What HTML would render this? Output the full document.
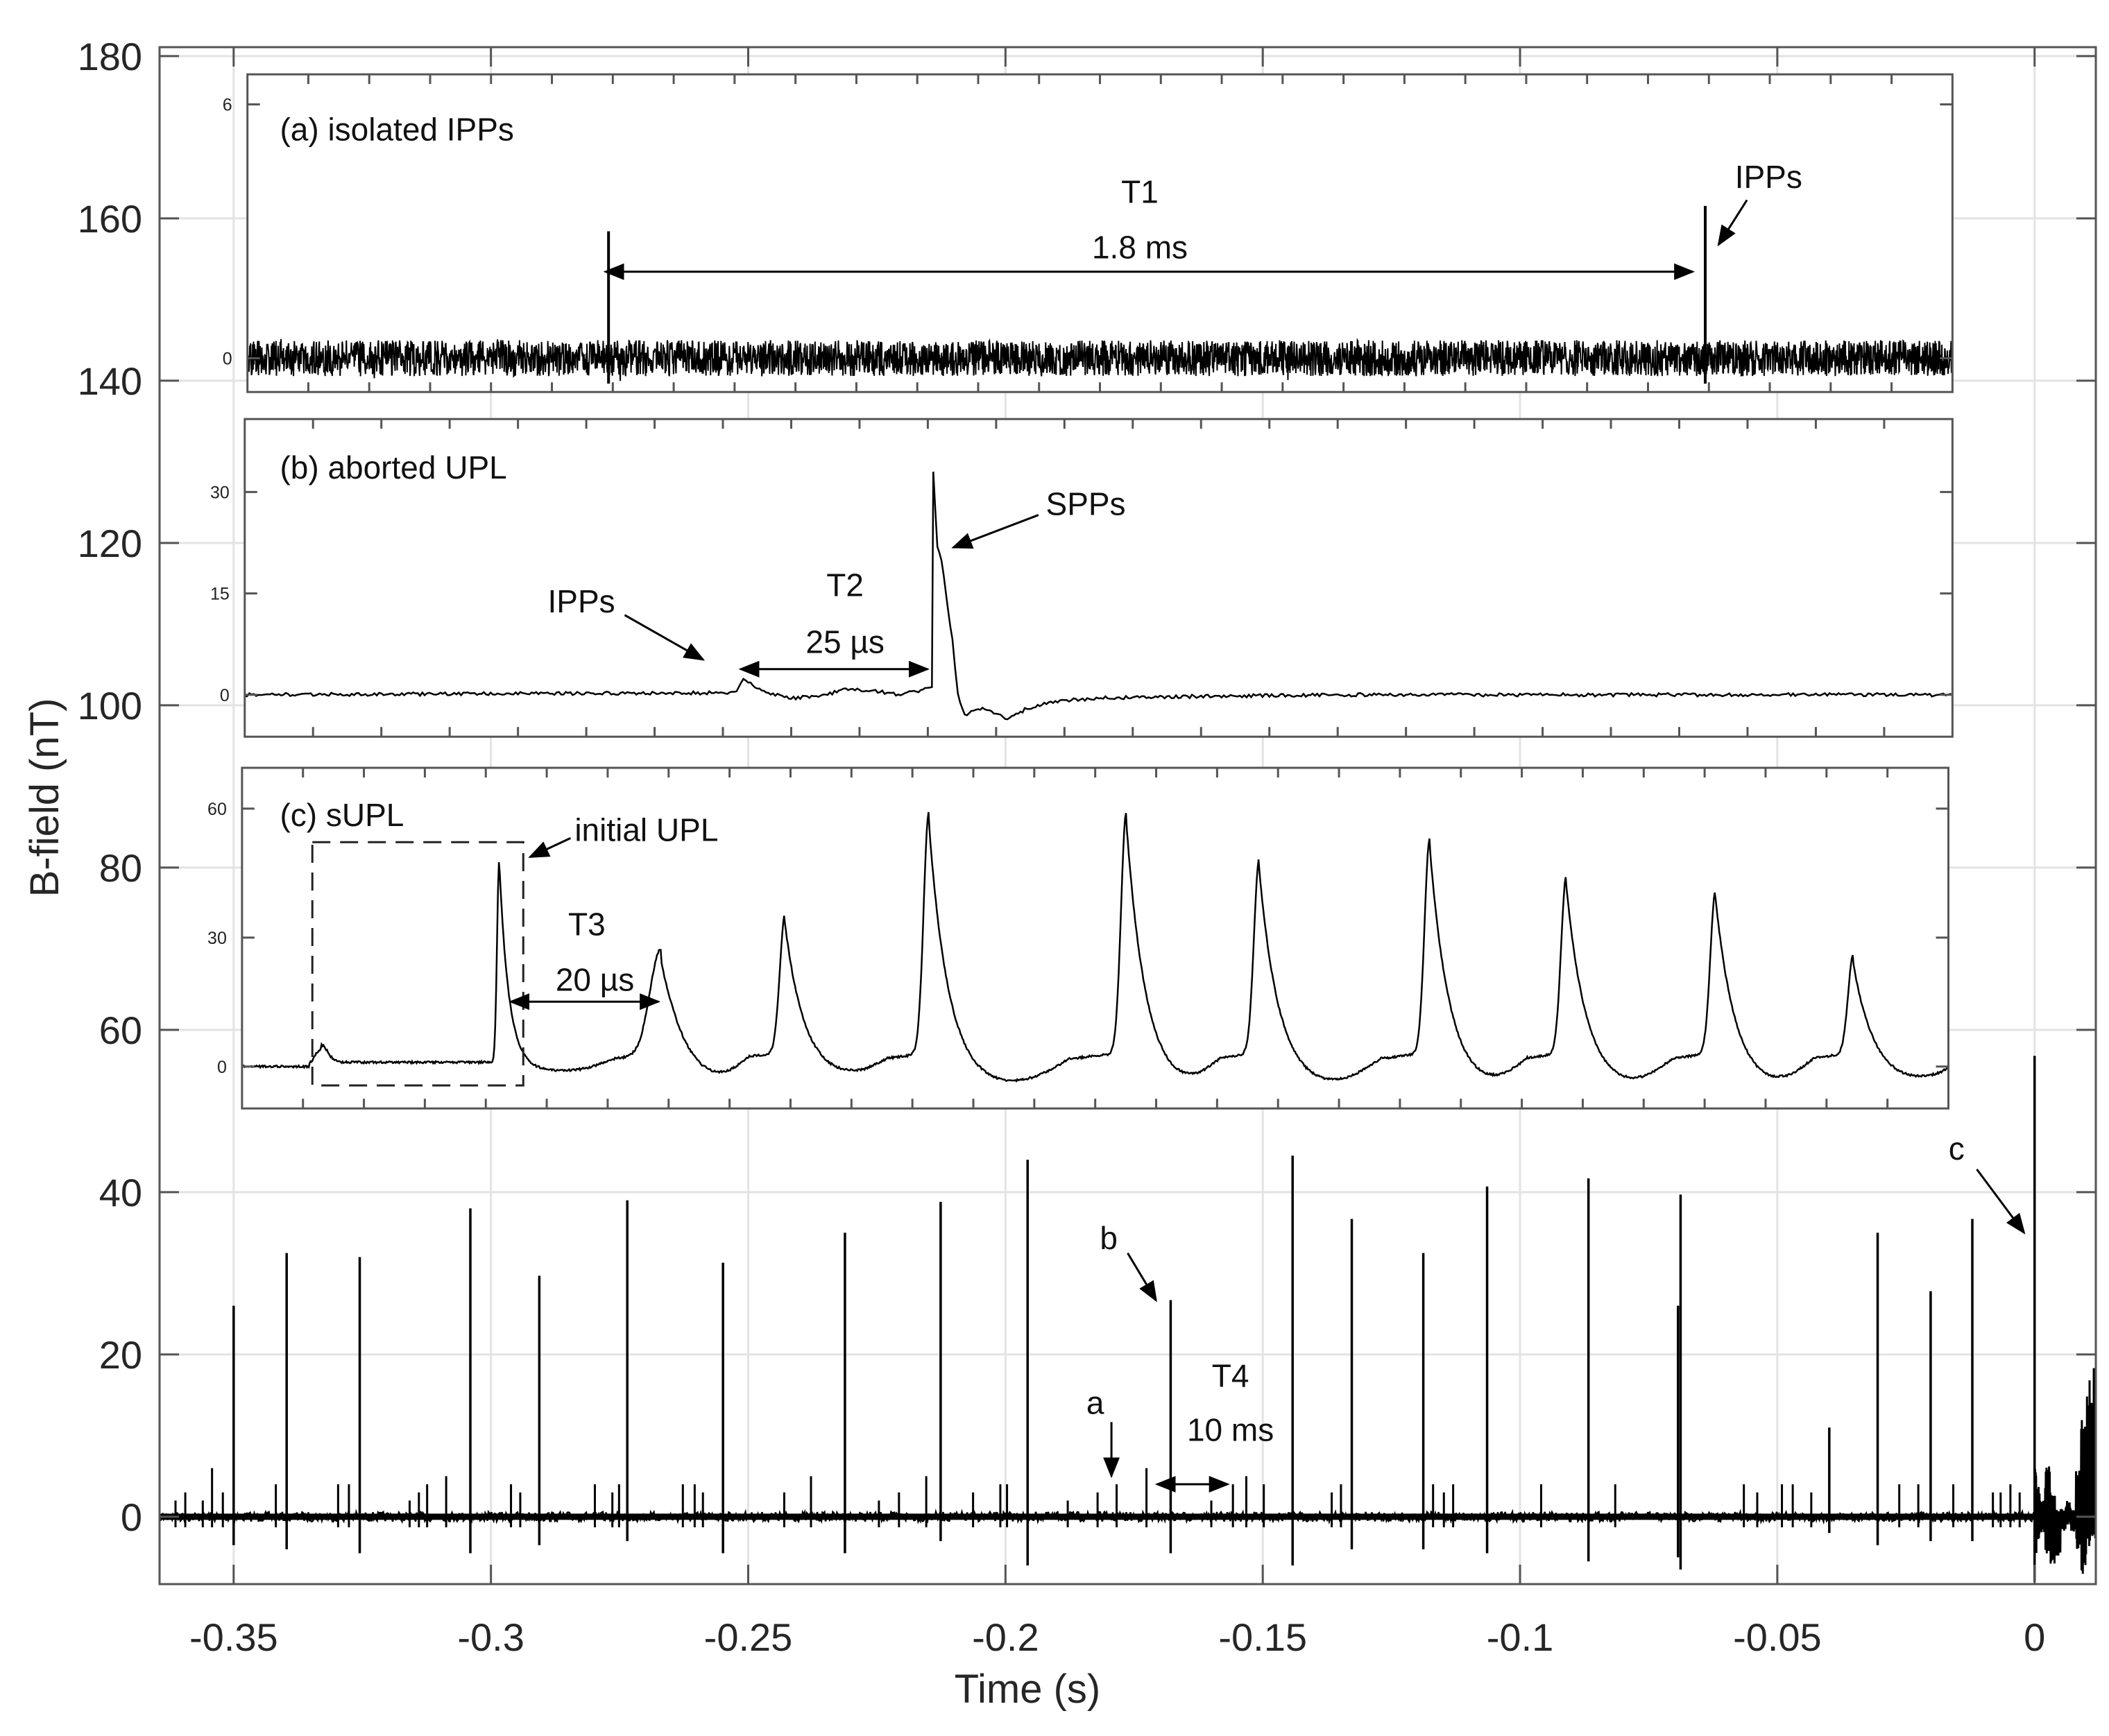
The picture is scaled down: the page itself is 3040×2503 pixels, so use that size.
<!DOCTYPE html>
<html><head><meta charset="utf-8"><style>
html,body{margin:0;padding:0;background:#fff;}
svg{display:block;font-family:"Liberation Sans",Arial,sans-serif;}
</style></head><body>
<svg id="chart" width="3040" height="2503" viewBox="0 0 3040 2503" xmlns="http://www.w3.org/2000/svg"></svg>
<script>
// ===== Main chart data (time in ms, B-field in nT) =====
const xTickVals = [-0.35,-0.3,-0.25,-0.2,-0.15,-0.1,-0.05,0];
const xTickLabels = ["-0.35","-0.3","-0.25","-0.2","-0.15","-0.1","-0.05","0"];
const yTickVals = [0,20,40,60,80,100,120,140,160,180];
const yTickLabels = ["0","20","40","60","80","100","120","140","160","180"];
const bigSpikeTimes = [-350,-339.7,-325.5,-304,-290.6,-273.5,-254.9,-231.2,-212.6,-195.7,-167.9,-144.2,-132.7,-118.8,-106.4,-86.7,-68.8,-69.3,-39.9,-30.5,-20.2,-12.1,0];
const bigSpikeHeights = [26,32.5,32,38,29.7,39,31.3,35,38.8,44,26.7,44.5,36.7,32.5,40.7,41.7,39.7,26,11,35,27.8,36.7,56.8];
const bigSpikeDips = [-3.5,-4,-4.5,-4.5,-3.5,-3,-4.5,-4.5,-3,-6,-4.5,-6,-4,-4,-4.5,-5.5,-6.5,-5,-2,-3.5,-3,-3,-8];
const smallSpikeTimes = [-361.3,-359.4,-356.0,-354.2,-352.1,-341.8,-329.7,-327.6,-315.8,-314.0,-312.4,-308.7,-296.1,-294.3,-279.8,-276.4,-275.1,-262.7,-260.4,-258.8,-243.0,-237.8,-224.6,-220.7,-215.4,-206.3,-201.0,-199.7,-187.9,-182.1,-178.4,-172.6,-160.0,-155.8,-153.2,-149.8,-136.6,-134.8,-116.9,-114.8,-113.0,-95.9,-81.5,-56.5,-53.9,-49.1,-47.0,-43.4,-26.3,-22.6,-15.8,-8.1,-6.6,-4.7,-2.9];
const smallSpikeHeights = [2,3,2,6,3,4,4,4,2,3,4,5,4,3,4,3,4,4,4,3,3,5,2,3,5,3,4,4,2,3,4,6,2,4,5,4,3,4,4,3,4,4,4,4,3,4,4,3,4,4,4,3,3,4,3];
const tailTimes = [0.3,1,2,3,4,5,6,7,8,9,10,11,11.9];
const tailUpper = [8,4,2,7,3,1,1,2,1,6,12,17,19];
const tailLower = [-5,-3,-2,-5,-6,-5,-2,-1,-2,-4,-8,-4,-3];

// ===== Inset (a): time in ms, field in nT =====
const aSpikeTimes = [0.593, 2.394];
const aSpikeHeights = [3.0, 3.6];
const aYTicks = [0,6];
// ===== Inset (b): time in µs =====
const bTimes = [0,72,73,74.4,76,80,85,88,92,96,100.6,100.8,101.4,102,103.6,104.4,105.4,108,110,112,114.5,118,125,140,160,250];
const bValues = [0,0.3,2.2,1.5,0.5,-0.5,0,0.8,0.6,0,1,33,22,20,8,0,-3,-2,-3,-3.5,-2,-1,-0.5,-0.2,0,0];
const bYTicks = [0,15,30];
// ===== Inset (c): time in µs =====
const cPeakTimes = [42.2,68.7,89.1,112.7,145.1,166.9,194.9,217.3,241.8,264.4];
const cPeakAmps = [47,24,32,56,56,45,50,41,38,23];
const cTroughs = [-2,-5,-3,-5,-5,-5,-5,-5,-5,-4];
const cYTicks = [0,30,60];

const S = 1.949;
const svg = document.getElementById('chart');
const NS = 'http://www.w3.org/2000/svg';
function mk(tag, attrs, parent){const e=document.createElementNS(NS,tag);for(const k in attrs)e.setAttribute(k,attrs[k]);(parent||svg).appendChild(e);return e;}
let seed=7;function rnd(){seed=(seed*16807)%2147483647;return seed/2147483647;}

const L=230,R=3021,T=68,B=2284;
const xMin=-0.3644,xMax=0.0119,yMin=-8.3,yMax=181.1;
const X=t=>L+(t-xMin)/(xMax-xMin)*(R-L);
const Y=v=>B-(v-yMin)/(yMax-yMin)*(B-T);
const Xms=ms=>X(ms/1000);

const grid=mk('g',{});


xTickVals.forEach(v=>mk('line',{x1:X(v),x2:X(v),y1:T,y2:B,stroke:'#e3e3e3','stroke-width':3},grid));
yTickVals.forEach(v=>mk('line',{x1:L,x2:R,y1:Y(v),y2:Y(v),stroke:'#e3e3e3','stroke-width':3},grid));

const trace=mk('g',{stroke:'#000',fill:'none'});


let d='M'+L+' '+Y(0);
for(let x=L;x<=X(0);x+=1.5){d+='L'+x+' '+(Y(0)+(rnd()-0.5)*14);}
mk('path',{d:d,'stroke-width':2.5},trace);
mk('line',{x1:L,x2:X(0),y1:Y(0),y2:Y(0),'stroke-width':9},trace);
smallSpikeTimes.forEach((t,i)=>{
  const s=mk('line',{x1:Xms(t),x2:Xms(t),y1:Y(-1.3),y2:Y(smallSpikeHeights[i]),'stroke-width':3},trace);
  
  
});
bigSpikeTimes.forEach((t,i)=>{
  const s=mk('line',{x1:Xms(t),x2:Xms(t),y1:Y(bigSpikeDips[i]),y2:Y(bigSpikeHeights[i]),'stroke-width':3.5},trace);
  
  
});
let td='M'+Xms(0)+' '+Y(0);
for(let i=0;i<tailTimes.length;i++){
  const t0=i?tailTimes[i-1]:0,t1=tailTimes[i];
  for(let k=0;k<8;k++){const t=t0+(t1-t0)*(k+0.5)/8;
    td+='L'+Xms(t)+' '+Y(tailUpper[i]*(0.5+0.5*rnd()))+'L'+Xms(t+0.06)+' '+Y(tailLower[i]*(0.5+0.5*rnd()));}
}
const tp=mk('path',{d:td,'stroke-width':3},trace);



const ax=mk('g',{stroke:'#555','stroke-width':3,fill:'none'});


mk('rect',{x:L,y:T,width:R-L,height:B-T},ax);
xTickVals.forEach(v=>{mk('line',{x1:X(v),x2:X(v),y1:B,y2:B-28},ax);mk('line',{x1:X(v),x2:X(v),y1:T,y2:T+28},ax);});
yTickVals.forEach(v=>{mk('line',{x1:L,x2:L+28,y1:Y(v),y2:Y(v)},ax);mk('line',{x1:R,x2:R-28,y1:Y(v),y2:Y(v)},ax);});
xTickVals.forEach((v,i)=>{const t=mk('text',{x:X(v),y:2380,'font-size':56,'text-anchor':'middle',fill:'#262626'});t.textContent=xTickLabels[i];
  });
yTickVals.forEach((v,i)=>{const t=mk('text',{x:205,y:Y(v)+20,'font-size':56,'text-anchor':'end',fill:'#262626'});t.textContent=yTickLabels[i];
  });
const xt=mk('text',{x:1481,y:2455,'font-size':58,'text-anchor':'middle',fill:'#262626'});xt.textContent='Time (s)';

const yt=mk('text',{x:0,y:0,'font-size':58,'text-anchor':'middle',fill:'#262626',transform:'translate(84,1150) rotate(-90)'});yt.textContent='B-field (nT)';


mk('defs',{}).innerHTML='<marker id="ah" markerWidth="30" markerHeight="24" refX="9" refY="4" orient="auto" markerUnits="userSpaceOnUse" viewBox="0 0 10 8"><path d="M0 0L10 4L0 8z" fill="#000"/></marker><marker id="ahs" markerWidth="30" markerHeight="24" refX="1" refY="4" orient="auto-start-reverse" markerUnits="userSpaceOnUse" viewBox="0 0 10 8"><path d="M0 0L10 4L0 8z" fill="#000"/></marker>';
function arrow(x1,y1,x2,y2,both,name){const l=mk('line',{x1:x1*S,y1:y1*S,x2:x2*S,y2:y2*S,stroke:'#000','stroke-width':3,'marker-end':'url(#ah)'});if(both)l.setAttribute('marker-start','url(#ahs)');
  }
function label(x,y,s,name,anchor){const t=mk('text',{x:x*S,y:y*S,'font-size':46,'text-anchor':anchor||'middle',fill:'#111'});t.textContent=s;
  }

function inset(x0,y0,x1,y1,name){const g=mk('g',{});
  mk('rect',{x:x0*S,y:y0*S,width:(x1-x0)*S,height:(y1-y0)*S,fill:'#fff',stroke:'none'},g);return g;}
function insetFrame(g,x0,y0,x1,y1,nx,yt,Yf){
  const f=mk('g',{stroke:'#555','stroke-width':3,fill:'none'},g);
  mk('rect',{x:x0*S,y:y0*S,width:(x1-x0)*S,height:(y1-y0)*S},f);
  for(let i=1;i<nx;i++){const x=(x0+(x1-x0)*i/nx)*S;mk('line',{x1:x,x2:x,y1:y1*S,y2:y1*S-14},f);mk('line',{x1:x,x2:x,y1:y0*S,y2:y0*S+14},f);}
  yt.forEach(v=>{mk('line',{x1:x0*S,x2:x0*S+18,y1:Yf(v),y2:Yf(v)},f);mk('line',{x1:x1*S,x2:x1*S-18,y1:Yf(v),y2:Yf(v)},f);
    const t=mk('text',{x:x0*S-22,y:Yf(v)+9,'font-size':25,'text-anchor':'end',fill:'#222',stroke:'none'},g);t.textContent=String(v);
    });
}

// ----- inset (a)
{const x0=183,y0=55,x1=1444,y1=290;const g=inset(x0,y0,x1,y1,'inset-a');
 const XA=t=>(x0+(x1-x0)*t/2.8)*S, YA=v=>(265-(v*31.3))*S;
 let p='M'+XA(0)+' '+YA(0);
 for(let x=x0*S+1;x<x1*S-1;x+=0.6){p+='L'+x+' '+(YA(0)+(rnd()-0.5)*52+(rnd()<0.01?(rnd()-0.5)*30:0));}
 const n=mk('path',{d:p,stroke:'#000','stroke-width':2,fill:'none'},g);
 aSpikeTimes.forEach((t,i)=>{const s=mk('line',{x1:XA(t),x2:XA(t),y1:YA(-0.6),y2:YA(aSpikeHeights[i]),stroke:'#000','stroke-width':4},g);
   });
 insetFrame(g,x0,y0,x1,y1,28,aYTicks,YA);
 label(207,104,'(a) isolated IPPs','inset-a-title','start');
 label(843,150,'T1','t1-label');label(843,191,'1.8 ms','t1-value');
 arrow(460,201,1252,201,true,'t1-arrow');
 label(1308,139,'IPPs','inset-a-ipps-label');arrow(1292,148,1271,181,false,'ipps-arrow-a');
}
// ----- inset (b)
{const x0=181,y0=310,x1=1444,y1=545;const g=inset(x0,y0,x1,y1,'inset-b');
 const XB=t=>(x0+(x1-x0)*t/250)*S, YB=v=>(514-v*5)*S;
 let p='';
 for(let i=0;i<bTimes.length-1;i++){const t0=bTimes[i],t1=bTimes[i+1];const n=Math.max(1,Math.round((t1-t0)*3));
   for(let k=0;k<n;k++){const t=t0+(t1-t0)*k/n;const v=bValues[i]+(bValues[i+1]-bValues[i])*k/n;
     p+=(p?'L':'M')+XB(t)+' '+(YB(v)+(rnd()-0.5)*5);}}
 p+='L'+XB(250)+' '+YB(0);
 const tr=mk('path',{d:p,stroke:'#000','stroke-width':2.5,fill:'none'},g);
 insetFrame(g,x0,y0,x1,y1,25,bYTicks,YB);
 label(207,354,'(b) aborted UPL','inset-b-title','start');
 label(430,453,'IPPs','inset-b-ipps-label');arrow(462,455,520,488,false,'ipps-arrow-b');
 label(625,441,'T2','t2-label');label(625,483,'25 µs','t2-value');arrow(560,495,686,495,true,'t2-arrow');
 label(803,381,'SPPs','spps-label');arrow(768,381,705,405,false,'spps-arrow');
}
// ----- inset (c)
{const x0=179,y0=568,x1=1441,y1=820;const g=inset(x0,y0,x1,y1,'inset-c');
 const XC=t=>(x0+(x1-x0)*t/280)*S, YC=v=>(789-v*3.18)*S;
 function val(t){
   if(t<11)return 0;
   let v=0;
   v+=4*Math.exp(-Math.pow((t-13)/1.5,2));
   v+= t<13?0:1;
   for(let i=0;i<cPeakTimes.length;i++){const tp=cPeakTimes[i],a=cPeakAmps[i];
     const w=i===0?0.5:(i===1?2.5:1.2);
     if(t<tp) v+=a*Math.exp(-Math.pow((tp-t)/w,2));
     else v+=a*Math.exp(-(t-tp)/(i===0?1.5:(i===1?4:3)));
     const nxt=i+1<cPeakTimes.length?cPeakTimes[i+1]:290;
     if(t>tp&&t<nxt){const f=(t-tp)/(nxt-tp);v+=cTroughs[i]*Math.sin(Math.PI*Math.min(1,f*1.4))*(f<0.7?1:Math.max(0,1-(f-0.7)*2))+ (f>0.55? 5*(f-0.55):0);}
   }
   return v;}
 let p='';for(let t=0;t<=280;t+=0.15){p+=(p?'L':'M')+XC(t)+' '+(YC(val(t))+(rnd()-0.5)*3);}
 const tr=mk('path',{d:p,stroke:'#000','stroke-width':2.5,fill:'none'},g);
 insetFrame(g,x0,y0,x1,y1,28,cYTicks,YC);
 const r=mk('rect',{x:231*S,y:623*S,width:156*S,height:180*S,fill:'none',stroke:'#222','stroke-width':3,'stroke-dasharray':'26 14'},g);
 
 label(207,611,'(c) sUPL','inset-c-title','start');
 label(425,622,'initial UPL','initial-upl-label','start');arrow(422,620,392,634,false,'initial-upl-arrow');
 label(434,692,'T3','t3-label');label(440,733,'20 µs','t3-value');arrow(390,741,487,741,true,'t3-arrow');
}
label(820,924,'b','b-label');arrow(834,927,855,962,false,'b-arrow');
label(810,1046,'a','a-label');arrow(822,1052,822,1092,false,'a-arrow');
label(910,1026,'T4','t4-label');label(910,1066,'10 ms','t4-value');arrow(868,1098,908,1098,true,'t4-arrow');
label(1447,858,'c','c-label');arrow(1462,865,1497,912,false,'c-arrow');
</script>
</body></html>
